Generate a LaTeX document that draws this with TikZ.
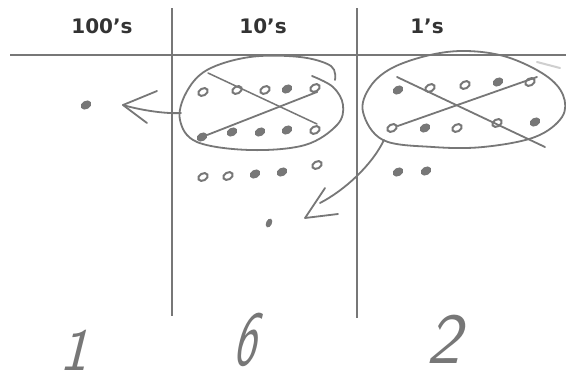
\documentclass[tikz,border=0pt]{standalone}
\usepackage{fontspec}
\setmainfont{DejaVu Sans}
\usetikzlibrary{shapes.geometric}
\definecolor{ink}{HTML}{777777}
\definecolor{txt}{HTML}{333333}
\begin{document}
\begin{tikzpicture}[x=1pt,y=-1pt,
  rule/.style={draw=ink,line width=1.8pt},
  pen/.style={draw=ink,line width=1.8pt,line cap=round,line join=round},
  head/.style={font=\bfseries\fontsize{20}{24}\selectfont,text=txt,inner sep=0pt},
  odot/.style={ellipse,draw=ink,line width=2pt,fill=white,minimum width=10pt,minimum height=7pt,inner sep=0pt,rotate=30},
  fdot/.style={ellipse,draw=ink,line width=1.2pt,fill=ink,minimum width=10pt,minimum height=7pt,inner sep=0pt,rotate=30},
  digit/.style={text=ink,inner sep=0pt,xslant=0.25}]
\fill[white] (0,0) rectangle (566,381);
\useasboundingbox (0,0) rectangle (566,381);
% table rules
\coordinate (hl) at (10,55); \coordinate (hr) at (566,55);
\coordinate (v1t) at (172,8); \coordinate (v1b) at (172,316);
\coordinate (v2t) at (357,8); \coordinate (v2b) at (357,318);
\draw[rule] (hl) -- (hr);
\draw[rule] (v1t) -- (v1b);
\draw[rule] (v2t) -- (v2b);
% headers
\node[head] (h100) at (102,26) {100’s};
\node[head] (h10) at (263,26) {10’s};
\node[head] (h1) at (427,26) {1’s};
% hundreds
\node[fdot] (hd) at (86,105) {};
% tens loop
\draw[pen] plot[smooth,tension=0.6] coordinates {(335,80)(331,66)(300,57)(250,57)(207,70)(186,93)(180,120)(197,142)(250,150)(305,145)(337,125)(343,105)(333,87)(312,76)};
\node[odot] (t1) at (203,92) {};
\node[odot] (t2) at (237,90) {};
\node[odot] (t3) at (265,90) {};
\node[fdot] (t4) at (287,89) {};
\node[odot] (t5) at (315,88) {};
\node[fdot] (b1) at (202,137) {};
\node[fdot] (b2) at (232,132) {};
\node[fdot] (b3) at (260,132) {};
\node[fdot] (b4) at (287,130) {};
\node[odot] (b5) at (315,130) {};
\coordinate (xa1) at (208,73); \coordinate (xa2) at (317,124);
\draw[pen,line width=1.5pt] (xa1) -- (xa2);
\draw[pen] (b1) -- (t5.south);
\node[odot] (r1) at (203,177) {};
\node[odot] (r2) at (228,176) {};
\node[fdot] (r3) at (255,174) {};
\node[fdot] (r4) at (282,172) {};
\node[odot] (r5) at (317,165) {};
\node[fdot,minimum width=8pt,minimum height=4.5pt,rotate=35] (lone) at (269,223) {};
% left arrow
\coordinate (ls) at (181,113);
\coordinate (lt) at (123,105);
\coordinate (lu) at (157,91);
\coordinate (ll) at (147,123);
\draw[pen] (ls) .. controls (165,114) and (140,110) .. (lt);
\draw[pen] (lu) -- (lt) -- (ll);
% ones loop
\draw[pen] plot[smooth cycle,tension=0.6] coordinates {(363,112)(370,87)(392,68)(430,55)(467,51)(507,57)(545,75)(563,95)(562,117)(535,137)(483,147)(433,147)(383,140)};
\node[fdot] (o1) at (398,90) {};
\node[odot] (o2) at (430,88) {};
\node[odot] (o3) at (465,85) {};
\node[fdot] (o4) at (498,82) {};
\node[odot] (o5) at (530,82) {};
\node[odot] (p1) at (392,128) {};
\node[fdot] (p2) at (425,128) {};
\node[odot] (p3) at (457,128) {};
\node[odot] (p4) at (497,123) {};
\node[fdot] (p5) at (535,122) {};
\coordinate (ya1) at (397,77); \coordinate (ya2) at (545,147);
\draw[pen] (ya1) -- (ya2);
\coordinate (yb2) at (537,77);
\draw[pen] (p1) -- (yb2);
\node[fdot] (q1) at (398,172) {};
\node[fdot] (q2) at (426,171) {};
\coordinate (dsh1) at (537,62); \coordinate (dsh2) at (560,68);
\draw[draw=ink!35,line width=2pt,line cap=round] (dsh1) -- (dsh2);
% curved arrow
\coordinate (cs) at (384,140);
\coordinate (ce) at (320,203);
\coordinate (ct) at (305,218);
\coordinate (cu) at (325,188);
\coordinate (cl) at (338,214);
\draw[pen] (cs) .. controls (372,165) and (345,190) .. (ce);
\draw[pen] (cu) -- (ct) -- (cl);
% handwritten digits
\node[digit,font=\sffamily\fontsize{60}{60}\selectfont] (d1) at (79,350) {1};
\node[digit,font=\sffamily\fontsize{78}{78}\selectfont,xscale=0.6] (d6) at (250,340) {6};
\node[digit,font=\sffamily\fontsize{72}{72}\selectfont] (d2) at (449,339) {2};
\end{tikzpicture}
\end{document}
